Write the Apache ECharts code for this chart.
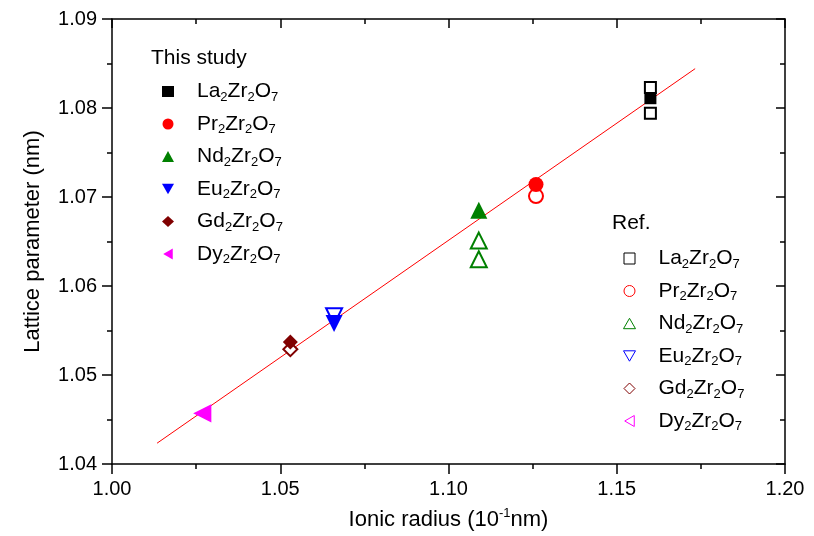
<!DOCTYPE html>
<html>
<head>
<meta charset="utf-8">
<script src="https://cdn.jsdelivr.net/npm/echarts@6/dist/echarts.min.js"></script>
<style>html,body{margin:0;padding:0;background:#fff}#c{width:814px;height:536px}</style>
</head>
<body>
<div id="c"></div>
<script>
// ---- data ----
const compounds = ['La', 'Pr', 'Nd', 'Eu', 'Gd', 'Dy'];
const ionicRadius = [1.160, 1.126, 1.109, 1.066, 1.053, 1.027];
const thisStudy = [1.0811, 1.0714, 1.0685, 1.0558, 1.0537, 1.0457];
const refLa = [1.0823, 1.0794];
const refPr = [1.0701];
const refNd = [1.0651, 1.0630];
const refEu = [1.0566];
const refGd = [1.0529];
const refDy = [1.0457];
const fitX = [1.0134, 1.1733];
const fitY = [1.04234, 1.08442];
const xTicks = ['1.00', '1.05', '1.10', '1.15', '1.20'];
const yTicks = ['1.04', '1.05', '1.06', '1.07', '1.08', '1.09'];

const colors = ['#000000', '#ff0000', '#008000', '#0000ff', '#800000', '#ff00ff'];
const symbols = ['rect', 'circle', 'triangle', 'triangle', 'diamond', 'triangle'];
const rotations = [0, 0, 0, 180, 0, 90];
const sizes = [12, 15, 17, 17, 15, 16];
const refData = [refLa, refPr, refNd, refEu, refGd, refDy];
const FONT = 'Liberation Sans, Arial, sans-serif';
// legend icon shapes (legend does not rotate series symbols)
const legendIcons = [
  'path://M0,0L10,0L10,10L0,10Z',
  'path://M0,5A5,5,0,1,1,10,5A5,5,0,1,1,0,5Z',
  'path://M10,0L20,17.32L0,17.32Z',
  'path://M0,0L20,0L10,17.32Z',
  'path://M6,0L12,6L6,12L0,6Z',
  'path://M0,10L17.32,0L17.32,20Z'
];

const formula = n => '{g|}{m|' + n + '}{s|2}{m|Zr}{s|2}{m|O}{s|7}';
const richLegend = {
  g: { width: 18, fontSize: 21, lineHeight: 24 },
  m: { fontSize: 21, lineHeight: 24, fontFamily: FONT, color: '#000' },
  s: { fontSize: 13, lineHeight: 7, verticalAlign: 'bottom', fontFamily: FONT, color: '#000' }
};

const series = [];
series.push({
  type: 'line', name: 'fit', data: fitX.map((x, i) => [x, fitY[i]]),
  showSymbol: false, symbol: 'none', lineStyle: { color: '#ff0000', width: 1 }, z: 1, silent: true
});
compounds.forEach((c, i) => {
  series.push({
    type: 'scatter', name: 'Ref ' + c,
    data: refData[i].map(y => [ionicRadius[i], y]),
    symbol: 'empty' + symbols[i].charAt(0).toUpperCase() + symbols[i].slice(1),
    symbolRotate: rotations[i], symbolSize: sizes[i] - 1,
    itemStyle: { color: colors[i], borderColor: colors[i], borderWidth: 1, opacity: 1 }, z: 2
  });
});
compounds.forEach((c, i) => {
  series.push({
    type: 'scatter', name: 'This ' + c,
    data: [[ionicRadius[i], thisStudy[i]]],
    symbol: symbols[i], symbolRotate: rotations[i], symbolSize: sizes[i],
    itemStyle: { color: colors[i], opacity: 1 }, z: 3
  });
});

const legendBase = {
  orient: 'vertical', itemWidth: 12, itemHeight: 11, itemGap: 10,
  selectedMode: false, formatter: name => formula(name.split(' ')[1]),
  textStyle: { rich: richLegend }
};

const thisLegendData = compounds.map((c, i) => {
  const d = { name: 'This ' + c };
  if (rotations[i]) d.icon = legendIcons[i];
  return d;
});
const refLegendData = compounds.map((c, i) => ({
  name: 'Ref ' + c, icon: legendIcons[i],
  itemStyle: { color: '#fff', borderColor: colors[i], borderWidth: 1 }
}));

const axisCommon = {
  type: 'value', splitLine: { show: false },
  axisLine: { show: true, onZero: false, lineStyle: { color: '#000', width: 1.5 } }
};

const chart = echarts.init(document.getElementById('c'), null, { renderer: 'canvas' });
chart.setOption({
  animation: false,
  backgroundColor: '#fff',
  grid: { left: 112, right: 29, top: 19, bottom: 69 },
  xAxis: [
    Object.assign({}, axisCommon, {
      min: 1.0, max: 1.2, interval: 0.05, position: 'bottom',
      axisTick: { show: true, length: 10, lineStyle: { color: '#000', width: 1.5 } },
      minorTick: { show: true, splitNumber: 2, length: 5, lineStyle: { color: '#000', width: 1.5 } },
      axisLabel: { fontSize: 20, fontFamily: FONT, color: '#000', margin: 15,
        formatter: v => xTicks[Math.round((v - 1.0) / 0.05)] },
      name: '{m|Ionic radius (10}{p|-1}{m|nm)}', nameLocation: 'middle', nameGap: 43,
      nameTextStyle: { rich: {
        m: { fontSize: 22, lineHeight: 26, fontFamily: FONT, color: '#000' },
        p: { fontSize: 13, lineHeight: 8, verticalAlign: 'top', fontFamily: FONT, color: '#000' } } }
    }),
    Object.assign({}, axisCommon, {
      min: 1.0, max: 1.2, interval: 0.05, position: 'top',
      axisTick: { show: true, inside: true, length: 9, lineStyle: { color: '#000', width: 1.5 } },
      minorTick: { show: true, splitNumber: 2, length: 5, lineStyle: { color: '#000', width: 1.5 } },
      axisLabel: { show: false }
    })
  ],
  yAxis: [
    Object.assign({}, axisCommon, {
      min: 1.04, max: 1.09, interval: 0.01, position: 'left',
      axisTick: { show: true, length: 10, lineStyle: { color: '#000', width: 1.5 } },
      minorTick: { show: true, splitNumber: 2, length: 5, lineStyle: { color: '#000', width: 1.5 } },
      axisLabel: { fontSize: 20, fontFamily: FONT, color: '#000', margin: 15,
        formatter: v => yTicks[Math.round((v - 1.04) / 0.01)] },
      name: 'Lattice parameter (nm)', nameLocation: 'middle', nameGap: 68,
      nameTextStyle: { fontSize: 22, fontFamily: FONT, color: '#000' }
    }),
    Object.assign({}, axisCommon, {
      min: 1.04, max: 1.09, interval: 0.01, position: 'right',
      axisTick: { show: true, inside: true, length: 9, lineStyle: { color: '#000', width: 1.5 } },
      minorTick: { show: true, splitNumber: 2, length: 5, lineStyle: { color: '#000', width: 1.5 } },
      axisLabel: { show: false }
    })
  ],
  legend: [
    Object.assign({}, legendBase, { left: 157, top: 76, data: thisLegendData }),
    Object.assign({}, legendBase, { left: 618, top: 243, data: refLegendData })
  ],
  graphic: [
    { type: 'text', left: 151, top: 48, style: { text: 'This study', fontSize: 21, fontFamily: FONT, fill: '#000' } },
    { type: 'text', left: 612, top: 213, style: { text: 'Ref.', fontSize: 21, fontFamily: FONT, fill: '#000' } }
  ],
  series: series
});
</script>
</body>
</html>
